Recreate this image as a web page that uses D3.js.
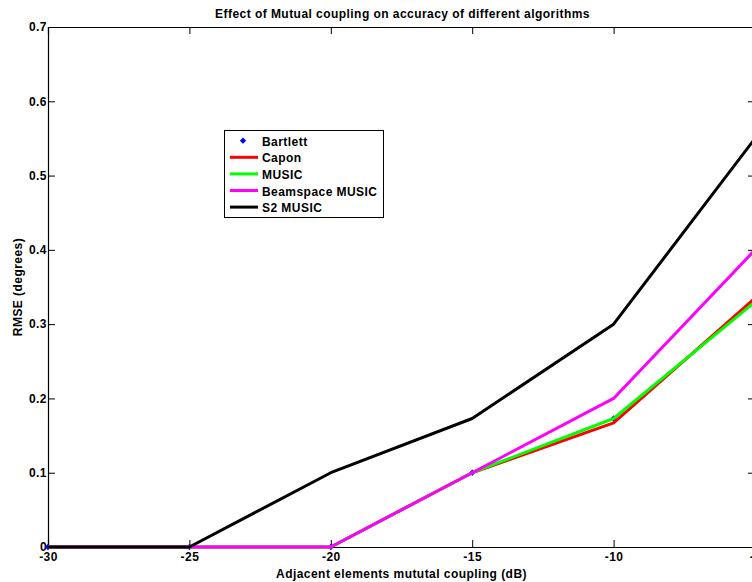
<!DOCTYPE html>
<html><head><meta charset="utf-8">
<script src="https://cdn.jsdelivr.net/npm/d3@7/dist/d3.min.js"></script>
<style>body{margin:0;background:#fff}svg{display:block}text{font-family:"Liberation Sans",Arial,sans-serif;font-weight:bold;letter-spacing:0.45px}</style>
</head><body><svg id="c" width="752" height="582"></svg>
<script>
const xValues = [-30, -25, -20, -15, -10, -5];
const bartlett = [0, 0, 0, 0.1, 0.173, 0.335];
const capon = [0, 0, 0, 0.1, 0.167, 0.335];
const music = [0, 0, 0, 0.1, 0.173, 0.33];
const beamspace = [0, 0, 0, 0.1, 0.2, 0.4];
const s2music = [0, 0, 0.1, 0.173, 0.3, 0.55];
const xTicks = [-30, -25, -20, -15, -10, -5];
const yTicks = [0, 0.1, 0.2, 0.3, 0.4, 0.5, 0.6, 0.7];
const xTickLabels = ["-30", "-25", "-20", "-15", "-10", "-5"];
const yTickLabels = ["0", "0.1", "0.2", "0.3", "0.4", "0.5", "0.6", "0.7"];
const seriesNames = ["Bartlett", "Capon", "MUSIC", "Beamspace MUSIC", "S2 MUSIC"];
const seriesColors = ["#0000ff", "#ff0000", "#00ff00", "#ff00ff", "#000000"];

const svg = d3.select("#c");
const L = 48, R = 755, T = 27, B = 547;
const x = d3.scaleLinear().domain([-30, -5]).range([L, R]);
const y = d3.scaleLinear().domain([0, 0.7]).range([B, T]);

// title
svg.append("text").attr("x", (L + R) / 2 + 1).attr("y", 18).attr("text-anchor", "middle")
  .attr("font-size", 12).text("Effect of Mutual coupling on accuracy of different algorithms");

// axes box
const tl = 7;
const gx = svg.append("g").attr("transform", `translate(0,${B})`)
  .call(d3.axisBottom(x).tickValues(xTicks).tickSize(-tl).tickPadding(5).tickFormat((d, i) => xTickLabels[i]));
const gxt = svg.append("g").attr("transform", `translate(0,${T})`)
  .call(d3.axisTop(x).tickValues(xTicks).tickSize(-tl).tickFormat(""));
const gy = svg.append("g").attr("transform", `translate(${L},0)`)
  .call(d3.axisLeft(y).tickValues(yTicks).tickSize(-tl).tickPadding(1).tickFormat((d, i) => yTickLabels[i]));
const gyr = svg.append("g").attr("transform", `translate(${R},0)`)
  .call(d3.axisRight(y).tickValues(yTicks).tickSize(-tl).tickFormat(""));
[gx, gxt, gy, gyr].forEach(g => {
  g.select(".domain").attr("stroke", "#000").attr("stroke-width", 1.2);
  g.selectAll(".tick line").attr("stroke", "#000").attr("stroke-width", 1);
  g.selectAll("text").attr("fill", "#000").attr("font-size", 12)
   .attr("font-family", '"Liberation Sans",Arial,sans-serif').attr("font-weight", "bold");
});
gx.selectAll(".tick text").attr("dy", "0.71em");

// axis labels
svg.append("text").attr("x", (L + R) / 2).attr("y", 578).attr("text-anchor", "middle")
  .attr("font-size", 12).text("Adjacent elements mututal coupling (dB)");
svg.append("text").attr("transform", `translate(22,${(T + B) / 2}) rotate(-90)`)
  .attr("text-anchor", "middle").attr("font-size", 12).text("RMSE (degrees)");

// data
const plot = svg.append("g");
const line = d3.line().x((d, i) => x(xValues[i])).y(d => y(d));
const diamond = d3.symbol().type(d3.symbolSquare).size(20);
plot.selectAll("path.bm").data(bartlett).join("path").attr("class", "bm")
  .attr("d", diamond).attr("transform", (d, i) => `translate(${x(xValues[i])},${y(d)}) rotate(45)`)
  .attr("fill", seriesColors[0]);
[capon, music, beamspace, s2music].forEach((s, k) => {
  plot.append("path").datum(s).attr("d", line).attr("fill", "none")
    .attr("stroke", seriesColors[k + 1]).attr("stroke-width", 3).attr("stroke-linejoin", "round");
});

// legend
const lg = svg.append("g");
lg.append("rect").attr("x", 224.5).attr("y", 130.5).attr("width", 159).attr("height", 87)
  .attr("fill", "#fff").attr("stroke", "#000").attr("stroke-width", 1);
seriesNames.forEach((n, i) => {
  const yy = 140.7 + i * 16.6;
  if (i === 0) {
    lg.append("path").attr("d", diamond).attr("transform", `translate(243,${yy}) rotate(45)`).attr("fill", seriesColors[0]);
  } else {
    lg.append("line").attr("x1", 230).attr("x2", 258).attr("y1", yy).attr("y2", yy)
      .attr("stroke", seriesColors[i]).attr("stroke-width", 3);
  }
  lg.append("text").attr("x", 262).attr("y", yy + 5).attr("font-size", 12).text(n);
});
</script></body></html>
